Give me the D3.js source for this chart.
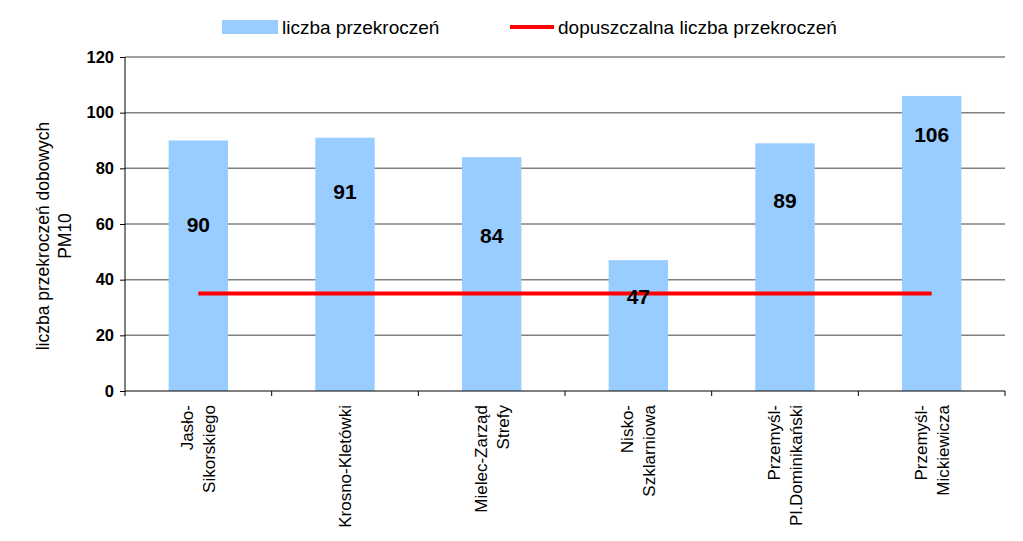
<!DOCTYPE html>
<html><head><meta charset="utf-8">
<script src="https://cdn.jsdelivr.net/npm/d3@7"></script>
<style>body{margin:0;background:#fff}svg{display:block;font-family:"Liberation Sans",Arial,sans-serif}</style>
</head><body>
<svg id="c" width="1023" height="541"></svg>
<script>
const categories = [["Jasło-","Sikorskiego"],["Krosno-Kletówki"],["Mielec-Zarząd","Strefy"],["Nisko-","Szklarniowa"],["Przemyśl-","Pl.Dominikański"],["Przemyśl-","Mickiewicza"]];
const values = [90, 91, 84, 47, 89, 106];
const limit = [35, 35, 35, 35, 35, 35];
const yTicks = [0, 20, 40, 60, 80, 100, 120];
const seriesNames = ["liczba przekroczeń", "dopuszczalna liczba przekroczeń"];
const labelAt = [60, 71.5, 56, 34, 68.5, 92]; // label anchor in value units as in original

const svg = d3.select("#c");
const m = {l:125, r:1005, t:57, b:391};
const keys = categories.map((c,i)=>i);
const x = d3.scaleBand().domain(keys).range([m.l, m.r]);
const y = d3.scaleLinear().domain([0,120]).range([m.b, m.t]);

// gridlines
svg.append("g").selectAll("line").data(yTicks.filter(d=>d>0)).join("line")
  .attr("x1", m.l).attr("x2", m.r).attr("y1", d=>y(d)).attr("y2", d=>y(d))
  .attr("stroke", "#808080").attr("stroke-width", 1.5);

// bars
const bw = x.bandwidth()*0.405;
svg.append("g").selectAll("rect").data(values).join("rect")
  .attr("x", (d,i)=>x(i)+x.bandwidth()/2-bw/2).attr("width", bw)
  .attr("y", d=>y(d)).attr("height", d=>y(0)-y(d))
  .attr("fill", "#99CCFF");

// y axis
const ya = svg.append("g").attr("transform", `translate(${m.l},0)`)
  .call(d3.axisLeft(y).tickValues(yTicks).tickSize(5).tickPadding(6));
ya.select(".domain").attr("stroke","#000").attr("d", `M0,${m.t}V${m.b}`);
ya.selectAll(".tick line").attr("stroke","#000");
ya.selectAll("text").attr("font-size", 16.5).attr("font-weight","bold").attr("fill","#000")
  .attr("font-family", '"Liberation Sans",Arial,sans-serif');

// x axis
const xa = svg.append("g").attr("transform", `translate(0,${m.b})`);
xa.append("line").attr("x1", m.l).attr("x2", m.r).attr("stroke","#000").attr("stroke-width",1.2);
const bounds = d3.range(categories.length+1).map(i=> i<categories.length ? x(i) : m.r);
xa.selectAll(".tk").data(bounds).join("line").attr("class","tk")
  .attr("x1", d=>d).attr("x2", d=>d).attr("y1",0).attr("y2",5).attr("stroke","#000");

// category labels
categories.forEach((lines,i)=>{
  const cx = x(i)+x.bandwidth()/2;
  const lh = 22;
  lines.forEach((t,j)=>{
    const off = (j-(lines.length-1)/2)*lh;
    svg.append("text")
      .attr("transform", `translate(${cx+off+6},${m.b+14}) rotate(-90)`)
      .attr("text-anchor","end").attr("font-size",17).attr("fill","#000").text(t);
  });
});

// limit line
const line = d3.line().x((d,i)=>x(i)+x.bandwidth()/2).y(d=>y(d));
svg.append("path").datum(limit).attr("d", line).attr("fill","none")
  .attr("stroke","#FF0000").attr("stroke-width",4);

// value labels
svg.append("g").selectAll("text").data(values).join("text")
  .attr("x", (d,i)=>x(i)+x.bandwidth()/2).attr("y", (d,i)=>y(labelAt[i]))
  .attr("text-anchor","middle").attr("dominant-baseline","central")
  .attr("font-size",21).attr("font-weight","bold").attr("fill","#000").text(d=>d);

// y title
const yt = svg.append("text").attr("transform","translate(0,236) rotate(-90)")
  .attr("text-anchor","middle").attr("font-size",17.5).attr("fill","#000");
yt.append("tspan").attr("x",0).attr("y",49).text("liczba przekroczeń dobowych");
yt.append("tspan").attr("x",0).attr("y",71).text("PM10");

// legend
const lg = svg.append("g");
lg.append("rect").attr("x",222).attr("y",20).attr("width",56).attr("height",14).attr("fill","#99CCFF");
lg.append("text").attr("x",282).attr("y",34).attr("font-size",19).attr("fill","#000").text(seriesNames[0]);
lg.append("line").attr("x1",510).attr("x2",554).attr("y1",27).attr("y2",27).attr("stroke","#FF0000").attr("stroke-width",4);
lg.append("text").attr("x",558).attr("y",34).attr("font-size",19).attr("fill","#000").text(seriesNames[1]);
</script>
</body></html>
